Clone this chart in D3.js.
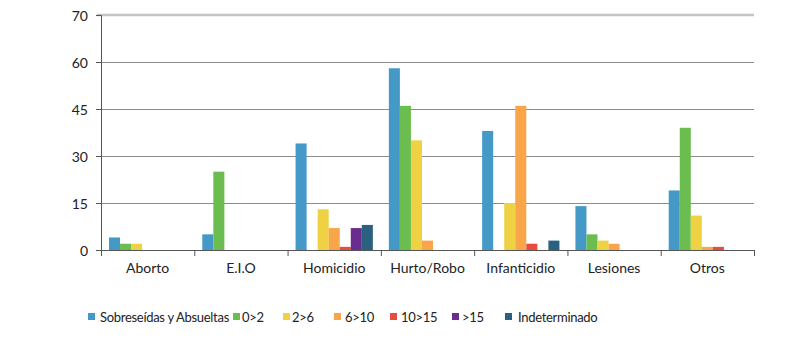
<!DOCTYPE html>
<html>
<head>
<meta charset="utf-8">
<script src="https://cdn.jsdelivr.net/npm/d3@7"></script>
<style>
  body { margin: 0; background: #fff; }
  svg text { font-family: Lato, "Open Sans", sans-serif; fill: #222; }
</style>
</head>
<body>
<div id="chart"></div>
<script>
// Categories and series
const categories = ["Aborto", "E.I.O", "Homicidio", "Hurto/Robo", "Infanticidio", "Lesiones", "Otros"];
const seriesNames = ["Sobreseídas y Absueltas", "0>2", "2>6", "6>10", "10>15", ">15", "Indeterminado"];

const sobreseidas = [4, 5, 34, 58, 38, 14, 19];
const r0a2        = [2, 25, 0, 46, 0, 5, 39];
const r2a6        = [2, 0, 13, 35, 15, 3, 11];
const r6a10       = [0, 0, 7, 3, 46, 2, 1];
const r10a15      = [0, 0, 1, 0, 2, 0, 1];
const r15         = [0, 0, 7, 0, 0, 0, 0];
const indeterm    = [0, 0, 8, 0, 3, 0, 0];

const seriesValues = [sobreseidas, r0a2, r2a6, r6a10, r10a15, r15, indeterm];

// Axis ticks (top gridline is labelled "70" in the original)
const yTickValues = [0, 15, 30, 45, 60, 75];
const yTickLabels = ["0", "15", "30", "45", "60", "70"];

const colors = ["#4599c6", "#6bbd4f", "#efd244", "#f9a64a", "#e84c3c", "#6b2c8f", "#2a6080"];

// Setup
const width = 788;
const height = 338;
const margin = {top: 15, right: 34, bottom: 88, left: 101};
const innerW = 754 - margin.left;
const innerH = 250 - margin.top;

const svg = d3.select("#chart")
    .append("svg")
    .attr("width", width)
    .attr("height", height);

const g = svg.append("g")
    .attr("transform", `translate(${margin.left},${margin.top})`);

const x = d3.scaleBand()
    .domain(categories)
    .range([0, innerW])
    .paddingInner(0)
    .paddingOuter(0);

const x1 = d3.scaleBand()
    .domain(seriesNames)
    .range([8, x.bandwidth() - 8]);

const y = d3.scaleLinear()
    .domain([0, 75])
    .range([innerH, 0]);

// Gridlines
g.selectAll(".grid")
  .data(yTickValues.slice(1, -1))
  .enter().append("line")
    .attr("class", "grid")
    .attr("x1", 0)
    .attr("x2", innerW)
    .attr("y1", d => y(d) + 0.5)
    .attr("y2", d => y(d) + 0.5)
    .attr("stroke", "#8c8c8c")
    .attr("stroke-width", 1);

// Top border line
g.append("line")
    .attr("x1", -4)
    .attr("x2", innerW)
    .attr("y1", y(75))
    .attr("y2", y(75))
    .attr("stroke", "#c4c4c4")
    .attr("stroke-width", 2.5);

// Bars
const rows = [];
seriesValues.forEach((vals, si) => {
  vals.forEach((v, ci) => {
    if (v > 0) rows.push({cat: categories[ci], name: seriesNames[si], value: v, color: colors[si]});
  });
});

g.selectAll(".bar")
  .data(rows)
  .enter().append("rect")
    .attr("class", "bar")
    .attr("x", d => x(d.cat) + x1(d.name))
    .attr("y", d => y(d.value))
    .attr("width", x1.bandwidth())
    .attr("height", d => innerH - y(d.value))
    .attr("fill", d => d.color);

// Y axis
const yAxis = d3.axisLeft(y)
    .tickValues(yTickValues)
    .tickFormat((d, i) => yTickLabels[i])
    .tickSize(5)
    .tickPadding(8);

const yg = g.append("g").call(yAxis);
yg.select(".domain").attr("stroke", "#555");
yg.selectAll(".tick line").attr("stroke", "#555");
yg.selectAll("text").style("font-size", "14px").attr("dy", "0.36em");

// X axis
const xAxis = d3.axisBottom(x).tickSize(0).tickPadding(13);
const xg = g.append("g")
    .attr("transform", `translate(0,${innerH})`)
    .call(xAxis);
xg.select(".domain").attr("stroke", "#555");
xg.selectAll("text").style("font-size", "14px");

// Category separator ticks
g.selectAll(".sep")
  .data(d3.range(categories.length + 1))
  .enter().append("line")
    .attr("x1", i => i * x.bandwidth() + 0.5)
    .attr("x2", i => i * x.bandwidth() + 0.5)
    .attr("y1", innerH)
    .attr("y2", innerH + 6)
    .attr("stroke", "#555");

// Legend
const legendX = [88, 233, 283, 334, 390, 452, 505];
const legendTextX = [100, 242, 292, 345, 401, 462, 518];
const legend = svg.append("g");
seriesNames.forEach((name, i) => {
  legend.append("rect")
      .attr("x", legendX[i])
      .attr("y", 313)
      .attr("width", 7)
      .attr("height", 7)
      .attr("fill", colors[i]);
  legend.append("text")
      .attr("x", legendTextX[i])
      .attr("y", 317)
      .attr("dy", "0.35em")
      .style("font-size", "13px")
      .style("letter-spacing", "-0.3px")
      .text(name);
});
</script>
</body>
</html>
